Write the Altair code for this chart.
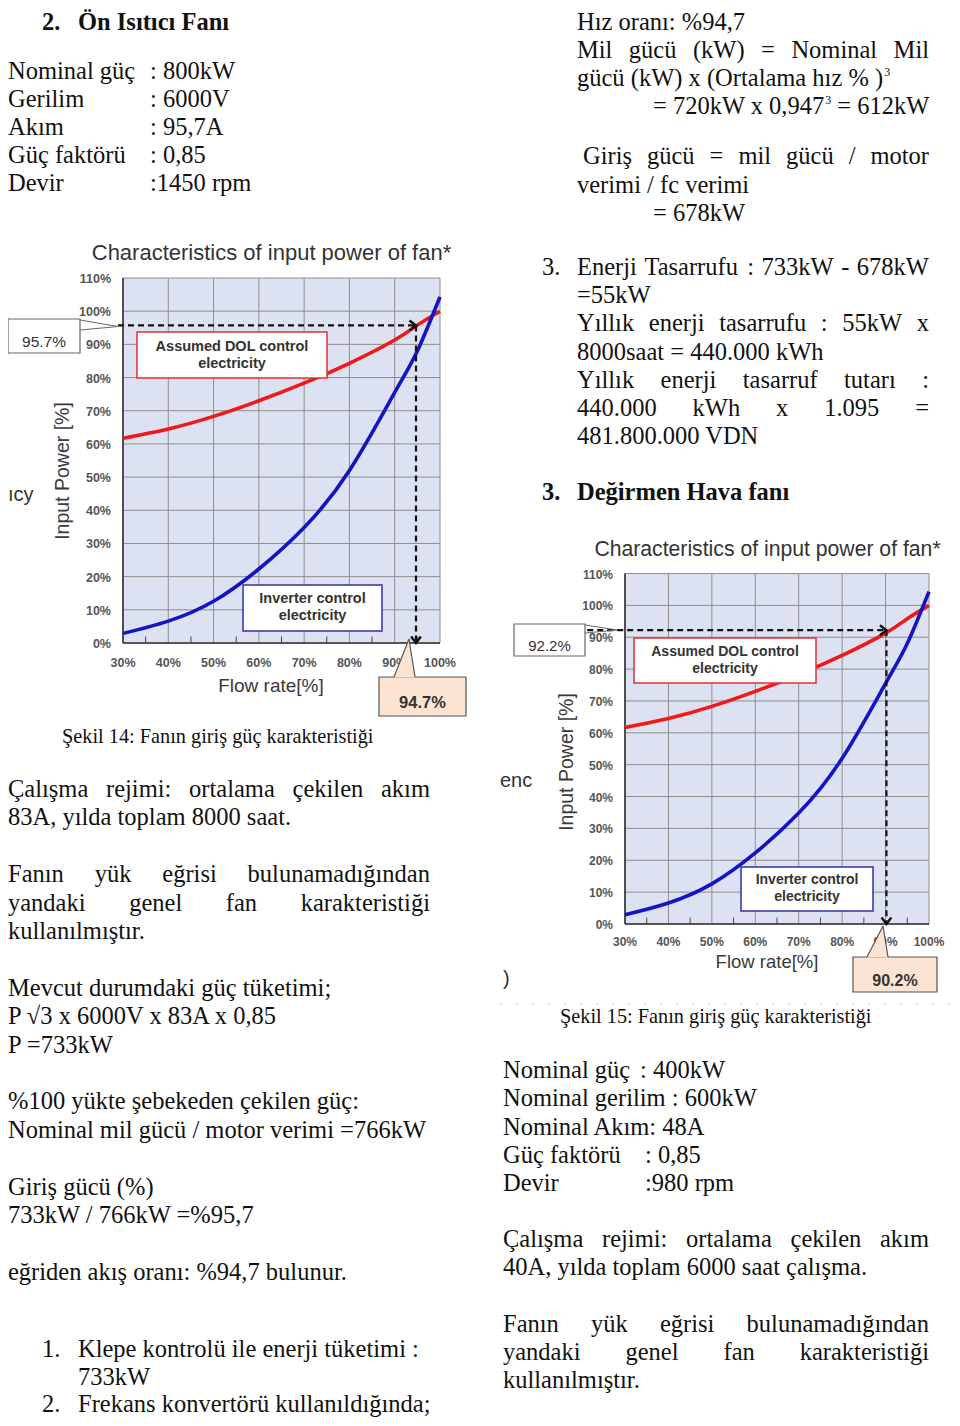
import altair as alt
import pandas as pd

# ------------------------------------------------------------------ data
FLOW = [30, 40, 50, 60, 70, 80, 90, 95, 100]
DOL_POWER = [61.7, 64.5, 68.3, 73.0, 78.3, 84.3, 91.3, 95.8, 100.0]
INV_POWER = [2.9, 6.6, 12.6, 22.3, 34.8, 52.0, 75.5, 88.0, 104.3]
X_TICKS = [30, 40, 50, 60, 70, 80, 90, 100]
X_LABELS = ["30%", "40%", "50%", "60%", "70%", "80%", "90%", "100%"]
X_MINOR = [35, 45, 55, 65, 75, 85, 95]
Y_TICKS = [0, 10, 20, 30, 40, 50, 60, 70, 80, 90, 100, 110]
Y_LABELS = ["0%", "10%", "20%", "30%", "40%", "50%", "60%", "70%", "80%", "90%", "100%", "110%"]
OP1 = (94.7, 95.7)   # (flow %, input power %) chart 1
OP2 = (90.2, 92.2)   # chart 2
OP1_LABELS = ("95.7%", "94.7%")
OP2_LABELS = ("92.2%", "90.2%")
CHART_TITLE = "Characteristics of input power of fan*"
X_TITLE = "Flow rate[%]"
Y_TITLE = "Input Power [%]"
DOL_LABEL = ["Assumed DOL control", "electricity"]
INV_LABEL = ["Inverter control", "electricity"]

HEAD1 = ("2.", "Ön Isıtıcı Fanı")
SPEC1_NAMES = ["Nominal güç", "Gerilim", "Akım", "Güç faktörü", "Devir"]
SPEC1_VALUES = [": 800kW", ": 6000V", ": 95,7A", ": 0,85", ":1450 rpm"]
CAPTION1 = "Şekil 14: Fanın giriş güç karakteristiği"
LEFT_BODY = [
    ("Çalışma rejimi: ortalama çekilen akım", True),
    ("83A, yılda toplam 8000 saat.", False),
    None,
    ("Fanın yük eğrisi bulunamadığından", True),
    ("yandaki genel fan karakteristiği", True),
    ("kullanılmıştır.", False),
    None,
    ("Mevcut durumdaki güç tüketimi;", False),
    ("P √3 x 6000V x 83A x 0,85", False),
    ("P =733kW", False),
    None,
    ("%100 yükte şebekeden çekilen güç:", False),
    ("Nominal mil gücü / motor verimi =766kW", False),
    None,
    ("Giriş gücü (%)", False),
    ("733kW / 766kW =%95,7", False),
    None,
    ("eğriden akış oranı: %94,7 bulunur.", False),
]
LEFT_LIST = [("1.", "Klepe kontrolü ile enerji tüketimi :"), (None, "733kW"),
             ("2.", "Frekans konvertörü kullanıldığında;")]

RIGHT_TOP1 = "Hız oranı: %94,7"
RIGHT_TOP2 = "Mil gücü (kW) = Nominal Mil"
RIGHT_TOP3 = ("gücü (kW) x (Ortalama hız % )", "3")
RIGHT_TOP4 = ("= 720kW x 0,947", "3", "= 612kW")
RIGHT_TOP5 = "Giriş gücü = mil gücü / motor"
RIGHT_TOP6 = "verimi / fc verimi"
RIGHT_TOP7 = "= 678kW"
RIGHT_SAVE = [
    ("Enerji Tasarrufu : 733kW - 678kW", True),
    ("=55kW", False),
    ("Yıllık enerji tasarrufu : 55kW x", True),
    ("8000saat = 440.000 kWh", False),
    ("Yıllık enerji tasarruf tutarı :", True),
    ("440.000 kWh x 1.095 =", True),
    ("481.800.000 VDN", False),
]
RIGHT_SAVE_NUM = "3."
HEAD2 = ("3.", "Değirmen Hava fanı")
CAPTION2 = "Şekil 15: Fanın giriş güç karakteristiği"
SPEC2 = [("Nominal güç", ": 400kW"), ("Nominal gerilim : 600kW", None), ("Nominal Akım: 48A", None),
         ("Güç faktörü", ": 0,85"), ("Devir", ":980 rpm")]
RIGHT_BODY = [
    ("Çalışma rejimi: ortalama çekilen akım", True),
    ("40A, yılda toplam 6000 saat çalışma.", False),
    None,
    ("Fanın yük eğrisi bulunamadığından", True),
    ("yandaki genel fan karakteristiği", True),
    ("kullanılmıştır.", False),
]
CUT_TEXT = ["ıcy", "enc", ")"]

# ------------------------------------------------------------------ styles / layout
OX, OY = 8, 8
SERIF = "Liberation Serif"
SANS = "Liberation Sans"
FS = 24.5
LH = 28.4
INK = "#111111"
BG = "#DCE2F1"
GRID = "#8E8E8E"
RED = "#F01818"
BLUE = "#1414C4"
PEACH = "#FBE4D2"

TIMES = {' ': 250, '!': 333, '%': 833, '(': 333, ')': 333, ',': 250, '-': 333, '.': 250, '/': 278,
         ':': 278, ';': 278, '=': 564, '√': 549,
         'A': 722, 'B': 667, 'C': 667, 'D': 722, 'E': 611, 'F': 556, 'G': 722, 'H': 722, 'I': 333,
         'J': 389, 'K': 722, 'L': 611, 'M': 889, 'N': 722, 'O': 722, 'P': 556, 'Q': 722, 'R': 667,
         'S': 556, 'T': 611, 'U': 722, 'V': 722, 'W': 944, 'X': 722, 'Y': 722, 'Z': 611,
         'a': 444, 'b': 500, 'c': 444, 'd': 500, 'e': 444, 'f': 333, 'g': 500, 'h': 500, 'i': 278,
         'j': 278, 'k': 500, 'l': 278, 'm': 778, 'n': 500, 'o': 500, 'p': 500, 'q': 500, 'r': 333,
         's': 389, 't': 278, 'u': 500, 'v': 500, 'w': 722, 'x': 500, 'y': 500, 'z': 444,
         'ç': 444, 'ş': 389, 'ğ': 500, 'ı': 278, 'ü': 500, 'ö': 500, 'Ç': 667, 'Ş': 556, 'Ö': 722}


def tw(s, size=FS):
    return sum(TIMES.get(ch, 500) for ch in s) * size / 1000.0


def cx(X):
    return max(X - OX, 0)


def cy(Y):
    return Y - OY


body_rows, bold_rows, cap_rows, sup_rows = [], [], [], []


def put_line(text, X0, X1, Y, justify, rows=body_rows):
    if not justify:
        rows.append(dict(x=cx(X0), y=cy(Y), t=text))
        return
    words = text.split()
    total = sum(tw(w) for w in words)
    gap = (X1 - X0 - total) / (len(words) - 1)
    xpos = X0
    for w in words:
        rows.append(dict(x=cx(xpos), y=cy(Y), t=w))
        xpos += tw(w) + gap


# left column
L0, L1 = 8, 430
bold_rows.append(dict(x=cx(42), y=cy(30), t=HEAD1[0]))
bold_rows.append(dict(x=cx(78), y=cy(30), t=HEAD1[1]))
for i, (n, v) in enumerate(zip(SPEC1_NAMES, SPEC1_VALUES)):
    body_rows.append(dict(x=cx(L0), y=cy(79 + i * 28.1), t=n))
    body_rows.append(dict(x=cx(150), y=cy(79 + i * 28.1), t=v))
cap_rows.append(dict(x=cx(62), y=cy(743), t=CAPTION1))
for i, item in enumerate(LEFT_BODY):
    if item:
        put_line(item[0], L0, L1, 797 + i * LH, item[1])
for i, (num, txt) in enumerate(LEFT_LIST):
    yy = 1357 + i * 27.5
    if num:
        body_rows.append(dict(x=cx(42), y=cy(yy), t=num))
    body_rows.append(dict(x=cx(78), y=cy(yy), t=txt))

# right column top
R0, R1 = 577, 929
put_line(RIGHT_TOP1, R0, R1, 30, False)
put_line(RIGHT_TOP2, R0, R1, 58, True)
put_line(RIGHT_TOP3[0], R0, R1, 86, False)
sup_rows.append(dict(x=cx(R0 + tw(RIGHT_TOP3[0]) + 1), y=cy(76), t=RIGHT_TOP3[1]))
put_line(RIGHT_TOP4[0], 653, R1, 113.5, False)
sx = 653 + tw(RIGHT_TOP4[0])
sup_rows.append(dict(x=cx(sx + 0.5), y=cy(103.5), t=RIGHT_TOP4[1]))
put_line(RIGHT_TOP4[2], sx + 6.5 + tw(" "), R1, 113.5, False)
put_line(RIGHT_TOP5, 583, R1, 164, True)
put_line(RIGHT_TOP6, R0, R1, 192.5, False)
put_line(RIGHT_TOP7, 653, R1, 220.5, False)
body_rows.append(dict(x=cx(542), y=cy(275), t=RIGHT_SAVE_NUM))
for i, (txt, j) in enumerate(RIGHT_SAVE):
    put_line(txt, R0, R1, 275 + i * 28.2, j)
bold_rows.append(dict(x=cx(542), y=cy(500), t=HEAD2[0]))
bold_rows.append(dict(x=cx(577), y=cy(500), t=HEAD2[1]))

# right column bottom
B0 = 503
cap_rows.append(dict(x=cx(560), y=cy(1023), t=CAPTION2))
for i, (a, b) in enumerate(SPEC2):
    yy = 1078 + i * 28.3
    body_rows.append(dict(x=cx(B0), y=cy(yy), t=a))
    if b:
        body_rows.append(dict(x=cx(640 if i == 0 else 645), y=cy(yy), t=b))
for i, item in enumerate(RIGHT_BODY):
    if item:
        put_line(item[0], B0, R1, 1247 + i * 28.2, item[1])

cut_rows = [dict(x=cx(3), y=cy(501), t=CUT_TEXT[0]), dict(x=cx(500), y=cy(787), t=CUT_TEXT[1]),
            dict(x=cx(503), y=cy(985), t=CUT_TEXT[2])]


def text_layer(rows, **kw):
    return alt.Chart(pd.DataFrame(rows)).mark_text(align="left", baseline="alphabetic", **kw).encode(
        x=alt.X("x:Q", scale=None, axis=None),
        y=alt.Y("y:Q", scale=None, axis=None),
        text="t:N",
    )


ONE = pd.DataFrame({"k": [0]})


def rect(x0, y0, x1, y1, **kw):
    return alt.Chart(ONE).mark_rect(**kw).encode(
        x=alt.value(cx(x0)), x2=alt.value(cx(x1)), y=alt.value(cy(y0)), y2=alt.value(cy(y1)))


def seg(x0, y0, x1, y1, **kw):
    return alt.Chart(ONE).mark_rule(**kw).encode(
        x=alt.value(cx(x0)), x2=alt.value(cx(x1)), y=alt.value(cy(y0)), y2=alt.value(cy(y1)))


def label(txt, x, y, **kw):
    return alt.Chart(ONE).mark_text(**kw).encode(
        x=alt.value(cx(x)), y=alt.value(cy(y)), text=alt.value(txt))


CHEV_R = "M-1,-0.75L0,0L-1,0.75"
CHEV_D = "M-0.75,-1L0,0L0.75,-1"


def panel(g, op, dash_start):
    xs = alt.Scale(domain=[X_TICKS[0], X_TICKS[-1]], range=[cx(g["x0"]), cx(g["x1"])], nice=False, zero=False)
    ys = alt.Scale(domain=[Y_TICKS[0], Y_TICKS[-1]], range=[cy(g["y0"]), cy(g["y110"])], nice=False, zero=False)

    def X(f):
        return alt.X(f, scale=xs, axis=None)

    def Y(f):
        return alt.Y(f, scale=ys, axis=None)

    frame = pd.DataFrame({"x": [X_TICKS[0]], "x2": [X_TICKS[-1]], "y": [Y_TICKS[0]], "y2": [Y_TICKS[-1]]})
    bg = alt.Chart(frame).mark_rect(fill=BG).encode(x=X("x:Q"), x2="x2:Q", y=Y("y:Q"), y2="y2:Q")
    vgrid = alt.Chart(pd.DataFrame({"v": X_TICKS, "lo": Y_TICKS[0], "hi": Y_TICKS[-1]})).mark_rule(
        color=GRID, strokeWidth=1).encode(x=X("v:Q"), y=Y("lo:Q"), y2="hi:Q")
    hgrid = alt.Chart(pd.DataFrame({"v": Y_TICKS, "lo": X_TICKS[0], "hi": X_TICKS[-1]})).mark_rule(
        color=GRID, strokeWidth=1).encode(y=Y("v:Q"), x=X("lo:Q"), x2="hi:Q")
    minor = alt.Chart(pd.DataFrame({"v": X_MINOR, "lo": 0, "hi": 2})).mark_rule(
        color="#444", strokeWidth=1).encode(x=X("v:Q"), y=Y("lo:Q"), y2="hi:Q")
    left = alt.Chart(frame).mark_rule(color="#333", strokeWidth=1.6).encode(x=X("x:Q"), y=Y("y:Q"), y2="y2:Q")
    bottom = alt.Chart(frame).mark_rule(color="#333", strokeWidth=1.6).encode(y=Y("y:Q"), x=X("x:Q"), x2="x2:Q")
    curves = pd.DataFrame({"f": FLOW, "dol": DOL_POWER, "inv": INV_POWER})
    red = alt.Chart(curves).mark_line(color=RED, strokeWidth=3.6, interpolate="natural").encode(
        x=X("f:Q"), y=Y("dol:Q"))
    blue = alt.Chart(curves).mark_line(color=BLUE, strokeWidth=3.6, interpolate="natural").encode(
        x=X("f:Q"), y=Y("inv:Q"))
    opdf = pd.DataFrame({"f": [op[0]], "p": [op[1]], "s": [dash_start], "z": [Y_TICKS[0]]})
    dh = alt.Chart(opdf).mark_rule(color="#111", strokeWidth=2.2, strokeDash=[6, 4]).encode(
        x=X("s:Q"), x2="f:Q", y=Y("p:Q"))
    dv = alt.Chart(opdf).mark_rule(color="#111", strokeWidth=2.2, strokeDash=[6, 4]).encode(
        x=X("f:Q"), y=Y("p:Q"), y2="z:Q")
    ah = alt.Chart(opdf).mark_point(shape=CHEV_R, size=170, filled=False, strokeWidth=2.4,
                                    color="#111", opacity=1).encode(x=X("f:Q"), y=Y("p:Q"))
    av = alt.Chart(opdf).mark_point(shape=CHEV_D, size=170, filled=False, strokeWidth=2.4,
                                    color="#111", opacity=1).encode(x=X("f:Q"), y=Y("z:Q"))
    xl = alt.Chart(pd.DataFrame({"v": X_TICKS, "lab": X_LABELS})).mark_text(
        font=SANS, fontSize=g["tick"], fontWeight="bold", color="#555", baseline="alphabetic").encode(
        x=X("v:Q"), y=alt.value(cy(g["xlab_y"])), text="lab:N")
    yl = alt.Chart(pd.DataFrame({"v": Y_TICKS, "lab": Y_LABELS})).mark_text(
        font=SANS, fontSize=g["tick"], fontWeight="bold", color="#555", align="right", baseline="middle",
        dy=1).encode(y=Y("v:Q"), x=alt.value(cx(g["ylab_x"])), text="lab:N")
    d = g["dol"]
    i = g["inv"]
    dol_box = rect(d[0], d[1], d[2], d[3], fill="white", stroke="#E03030", strokeWidth=1.5)
    dol_txt = label(DOL_LABEL, (d[0] + d[2]) / 2, d[4], font=SANS, fontSize=g["lab"], fontWeight="bold",
                    color="#333", align="center", baseline="alphabetic", lineHeight=g["lab"] * 1.2)
    inv_box = rect(i[0], i[1], i[2], i[3], fill="white", stroke="#3030A8", strokeWidth=1.5)
    inv_txt = label(INV_LABEL, (i[0] + i[2]) / 2, i[4], font=SANS, fontSize=g["lab"], fontWeight="bold",
                    color="#333", align="center", baseline="alphabetic", lineHeight=g["lab"] * 1.2)
    title = label(CHART_TITLE, g["title"][0], g["title"][1], font=SANS, fontSize=g["title"][2],
                  color="#333", align="center", baseline="alphabetic")
    xt = label(X_TITLE, g["xt"][0], g["xt"][1], font=SANS, fontSize=g["xt"][2], color="#3a3a3a",
               align="center", baseline="alphabetic")
    yt = label(Y_TITLE, g["yt"][0], g["yt"][1], font=SANS, fontSize=g["yt"][2], color="#3a3a3a",
               align="center", baseline="middle", angle=270)
    return alt.layer(bg, vgrid, hgrid, minor, left, bottom, red, blue, dh, dv, ah, av, xl, yl,
                     dol_box, dol_txt, inv_box, inv_txt, title, xt, yt)


G1 = dict(x0=123, x1=440, y0=643, y110=278, tick=12.5, xlab_y=667, ylab_x=111, lab=14.5,
          dol=(137, 332, 327, 378, 350.5), inv=(243, 585, 382, 631, 602.5),
          title=(271.5, 260, 22), xt=(271, 692, 19), yt=(63, 471, 19.5))
G2 = dict(x0=625, x1=929, y0=924, y110=573.5, tick=12, xlab_y=946, ylab_x=613, lab=14,
          dol=(634, 638, 816, 683, 656), inv=(741, 867, 873, 911, 884),
          title=(767.5, 556, 21.2), xt=(767, 968, 18.5), yt=(567, 762, 19.5))

p1 = panel(G1, OP1, 28.9)
p2 = panel(G2, OP2, 21.3)


def wedge(ax, ay, bx0, bx1, by):
    df = pd.DataFrame({"y": [cy(ay), cy(by)], "a": [cx(ax), cx(bx0)], "b": [cx(ax), cx(bx1)]})
    return alt.Chart(df).mark_area(orient="horizontal", fill=PEACH).encode(
        y=alt.Y("y:Q", scale=None, axis=None), x=alt.X("a:Q", scale=None, axis=None), x2="b:Q")


call = [
    # chart 1 callouts
    rect(8, 319, 80, 353, fill="white", stroke="#666", strokeWidth=1.2),
    seg(80, 320, 118, 326.5, color="#666", strokeWidth=1),
    seg(80, 330, 118, 326.5, color="#666", strokeWidth=1),
    label(OP1_LABELS[0], 44, 342, font=SANS, fontSize=15.5, color="#333", align="center"),
    rect(379, 677, 466, 716, fill=PEACH, stroke="#555", strokeWidth=1.2),
    wedge(409, 639, 394, 415, 677.5),
    seg(409, 639, 394, 677, color="#555", strokeWidth=1.2),
    seg(409, 639, 415, 677, color="#555", strokeWidth=1.2),
    label(OP1_LABELS[1], 422.5, 703, font=SANS, fontSize=16.5, fontWeight="bold", color="#333", align="center"),
    # chart 2 callouts
    rect(514, 624, 585, 656, fill="white", stroke="#666", strokeWidth=1.2),
    seg(585, 625, 617, 630, color="#666", strokeWidth=1),
    seg(585, 633, 617, 630, color="#666", strokeWidth=1),
    label(OP2_LABELS[0], 549.5, 646, font=SANS, fontSize=15, color="#333", align="center"),
    rect(853, 957, 937, 992, fill=PEACH, stroke="#555", strokeWidth=1.2),
    wedge(883, 926, 867, 888, 957.5),
    seg(883, 926, 867, 957, color="#555", strokeWidth=1.2),
    seg(883, 926, 888, 957, color="#555", strokeWidth=1.2),
    label(OP2_LABELS[1], 895, 981, font=SANS, fontSize=16, fontWeight="bold", color="#333", align="center"),
    # faint image border
    seg(500, 1004, 960, 1004, color="#C8C8C8", strokeWidth=1.2, strokeDash=[2, 14]),
]

texts = [
    text_layer(body_rows, font=SERIF, fontSize=FS, color=INK),
    text_layer(bold_rows, font=SERIF, fontSize=FS, fontWeight="bold", color=INK),
    text_layer(cap_rows, font=SERIF, fontSize=20.3, color=INK),
    text_layer(sup_rows, font=SERIF, fontSize=12, color=INK),
    text_layer(cut_rows, font=SANS, fontSize=20, color="#333"),
]

chart = alt.layer(p1, p2, *call, *texts).resolve_scale(x="independent", y="independent").properties(
    width=944, height=1410, padding=0, autosize=alt.AutoSizeParams(type="none"),
    background="white").configure_view(stroke=None)

chart.save("out.html", embed_options={"renderer": "svg", "actions": False})
